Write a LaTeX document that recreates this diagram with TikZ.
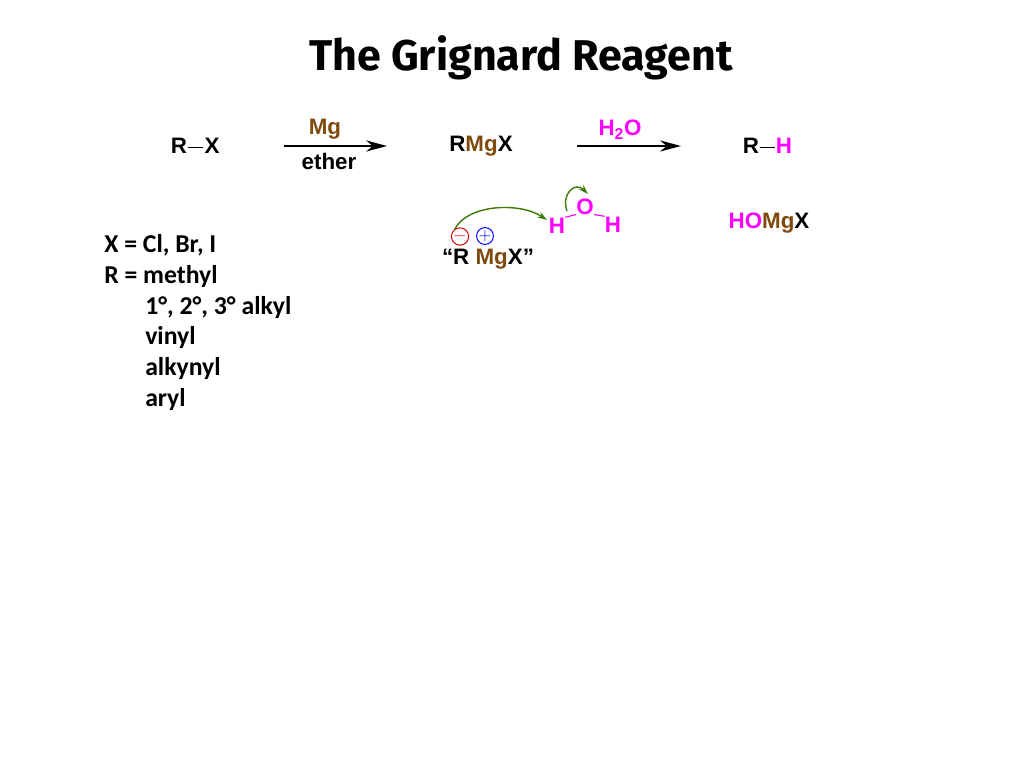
\documentclass[tikz,border=0pt]{standalone}
\usepackage{fontspec}
\setmainfont{Liberation Sans}
\newfontfamily\titlefont{Fira Sans}
\newfontfamily\listfont{Carlito}
\usepackage{xcolor}
\usetikzlibrary{arrows.meta, positioning, calc}
\definecolor{mgbrown}{HTML}{7F4A0C}
\definecolor{hmagenta}{HTML}{FF00FF}
\definecolor{curlgreen}{HTML}{3F7A08}
\tikzset{
  chem/.style={font=\fontsize{15.9}{18}\selectfont\bfseries, inner sep=0pt, anchor=base},
  listline/.style={font=\listfont\fontsize{18.3}{21}\selectfont\bfseries, inner sep=0pt, anchor=base west},
  bond/.style={line width=0.8pt, shorten >=0.7pt, shorten <=0.7pt},
  rxnarrow/.style={line width=1pt, -{Stealth[length=15pt, width=8pt]}},
  curlarrow/.style={curlgreen, line width=1pt, -{Stealth[length=7pt, width=4.5pt]}},
  charge/.style={draw, circle, line width=0.7pt, minimum size=11.5pt, inner sep=0pt, font=\fontsize{13}{13}\selectfont}
}
\begin{document}
\begin{tikzpicture}[x=0.025cm, y=-0.025cm]
\useasboundingbox (0,0) rectangle (1024,768);
\node[font=\titlefont\fontsize{30.6}{34}\selectfont\bfseries, inner sep=0pt, anchor=base] (title) at (521,71) {The Grignard Reagent};

% Starting halide
\node[chem] (rone) at (179,154) {R};
\node[chem] (xone) at (212,154) {X};
\draw[bond] (rone.east) ++(0,-1pt) coordinate (rxa) -- (rxa -| xone.west);

% First arrow
\coordinate (aonestart) at (284,146);
\coordinate (aoneend) at (387,146);
\draw[rxnarrow] (aonestart) -- (aoneend);
\node[chem, mgbrown] (mgtop) at (325,135) {Mg};
\node[chem] (ether) at (329,170) {ether};

% Grignard
\node[chem] (rmgx) at (481,152) {R\textcolor{mgbrown}{Mg}X};

% Second arrow
\coordinate (atwostart) at (577,146);
\coordinate (atwoend) at (681,146);
\draw[rxnarrow] (atwostart) -- (atwoend);
\node[chem, hmagenta] (water) at (620,136) {H\textsubscript{2}O};

% Product
\node[chem] (rtwo) at (751,154) {R};
\node[chem, hmagenta] (htwo) at (784,154) {H};
\draw[bond] (rtwo.east) ++(0,-1pt) coordinate (rha) -- (rha -| htwo.west);
\node[chem] (homgx) at (769,228) {\textcolor{hmagenta}{HO}\textcolor{mgbrown}{Mg}X};

% Water and curved arrows
\node[chem, hmagenta] (hleft) at (557,233) {H};
\node[chem, hmagenta] (oxy) at (585,214) {O};
\node[chem, hmagenta] (hright) at (613,232) {H};
\draw[bond, hmagenta, shorten >=0pt, shorten <=0pt] (hleft.north east) -- (oxy.south west);
\draw[bond, hmagenta, shorten >=0pt, shorten <=0pt] (oxy.south east) -- (hright.north west);
\node[charge, red!85!black] (minus) at (460,236.5) {$-$};
\node[charge, blue] (plus) at (485,236) {$+$};
\node[chem] (split) at (488,264) {``R \textcolor{mgbrown}{Mg}X''};
\draw[curlarrow] (minus.125) .. controls (468,204) and (520,202) .. (547,220);
\draw[curlarrow] (567,211) .. controls (561,194) and (575,181) .. (588,194);

% Scope of X and R
\node[listline] (xlist) at (104,252) {X = Cl, Br, I};
\node[listline] (rlist) at (104,283) {R = methyl};
\foreach \y/\name/\word in {314/alkyl/{1°, 2°, 3° alkyl}, 344/vinyl/vinyl, 375/alkynyl/alkynyl, 406/aryl/aryl} {
   \node[listline] (\name) at (145,\y) {\word};
}
\end{tikzpicture}
\end{document}
